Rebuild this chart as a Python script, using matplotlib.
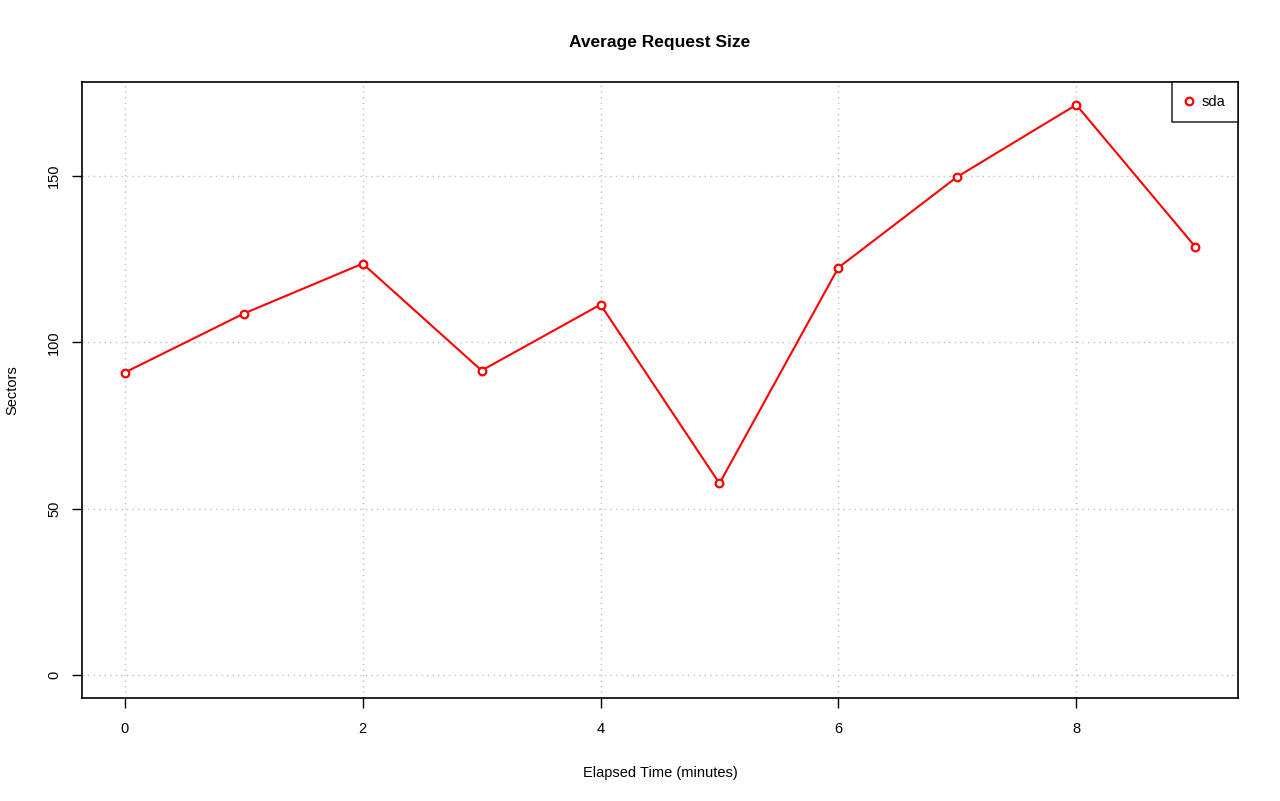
import numpy as np
import matplotlib.pyplot as plt

plt.rcParams['font.family'] = ['Liberation Sans', 'DejaVu Sans']

minutes = [0, 1, 2, 3, 4, 5, 6, 7, 8, 9]
sda = [90.9, 108.6, 123.6, 91.5, 111.3, 57.6, 122.4, 149.7, 171.3, 128.7]
x_ticks = [0, 2, 4, 6, 8]
y_ticks = [0, 50, 100, 150]

fig = plt.figure(figsize=(12.8, 8.01), dpi=100)
ax = fig.add_axes([82/1280, 103/801, (1238-82)/1280, (698-82)/801])

ax.plot(minutes, sda, color='red', lw=1.5, marker='o', ms=5.5, mfc='white',
        mec='red', mew=1.6, label='sda', zorder=3)

ymax = max(sda)
ax.set_xlim(-0.36, 9.36)
ax.set_ylim(-0.04 * ymax, ymax * 1.04)
ax.set_xticks(x_ticks)
ax.set_yticks(y_ticks)
ax.set_yticklabels([str(t) for t in y_ticks], rotation=90, va='center')
ax.tick_params(direction='out', length=7, width=1, labelsize=10.5, pad=10)
ax.tick_params(axis='y', pad=8)
for s in ax.spines.values():
    s.set_linewidth(1.2)
ax.grid(True, color='#c0c0c0', linestyle=(0, (1, 3)), lw=1)

ax.set_title('Average Request Size', fontsize=12.5, fontweight='bold', pad=25)
ax.set_xlabel('Elapsed Time (minutes)', fontsize=10.5, labelpad=22)
ax.set_ylabel('Sectors', fontsize=10.5, labelpad=20)

leg = ax.legend(loc='upper right', bbox_to_anchor=(1.0, 1.0), fontsize=10.5,
                frameon=True, fancybox=False, borderaxespad=0,
                handlelength=0.6, handletextpad=0.5, borderpad=0.9)
leg.get_frame().set_edgecolor('black')
leg.get_frame().set_linewidth(1.2)
for h in leg.legend_handles:
    h.set_linestyle('none')

fig.savefig('out.png', dpi=100)
